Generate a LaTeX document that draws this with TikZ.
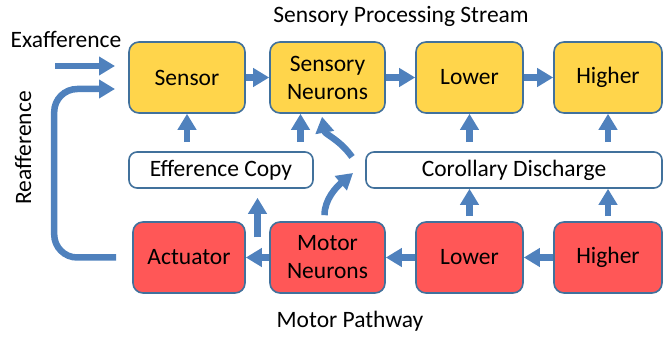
\documentclass[tikz,border=0pt]{standalone}
\usepackage{fontspec}
\setmainfont{Carlito}
\usetikzlibrary{arrows.meta,calc}

\definecolor{senseyellow}{HTML}{FFD54B}
\definecolor{motorred}{HTML}{FF5757}
\definecolor{boxline}{HTML}{41719C}
\definecolor{flowblue}{HTML}{4F81BD}

\tikzset{
  cellbox/.style={draw=boxline, line width=1.6pt, rounded corners=10pt,
    minimum height=71pt, align=center, inner sep=2pt,
    font=\fontsize{23.5}{28}\selectfont},
  sensebox/.style={cellbox, fill=senseyellow},
  motorbox/.style={cellbox, fill=motorred},
  copybox/.style={cellbox, fill=white, rounded corners=8pt, minimum height=36pt},
  caption/.style={font=\fontsize{23.5}{28}\selectfont},
  flow/.style={draw=flowblue, line width=6.5pt,
    -{Triangle[width=18pt,length=16pt]}},
}

\begin{document}
\begin{tikzpicture}[x=1pt,y=1pt]
  \useasboundingbox (0,0) rectangle (668,337);
  % sensory stream (top row)
  \node[sensebox, minimum width=116pt] (sensor) at (187,259.5) {Sensor};
  \node[sensebox, minimum width=115pt] (sn) at (327.5,259.5) {Sensory\\Neurons};
  \node[sensebox, minimum width=107pt] (slower) at (469.5,259.5) {Lower};
  \node[sensebox, minimum width=108pt] (shigher) at (608,259.5) {Higher};
  % copies (middle row)
  \node[copybox, minimum width=184pt] (ecopy) at (221,167) {Efference Copy};
  \node[copybox, minimum width=296pt] (cd) at (514,167) {Corollary Discharge};
  % motor pathway (bottom row)
  \node[motorbox, minimum width=112pt] (actuator) at (189,79.5) {Actuator};
  \node[motorbox, minimum width=115pt] (mn) at (327.5,79.5) {Motor\\Neurons};
  \node[motorbox, minimum width=107pt] (mlower) at (469.5,79.5) {Lower};
  \node[motorbox, minimum width=108pt] (mhigher) at (608,79.5) {Higher};
  % labels
  \node[caption] (streamlbl) at (401,321) {Sensory Processing Stream};
  \node[caption] (motorlbl) at (350,16) {Motor Pathway};
  \node[caption] (exalbl) at (66,298) {Exafference};
  \node[caption, rotate=90] (reaflbl) at (23,189) {Reafference};
  % free ends
  \coordinate (exastart) at (55,271);
  \coordinate (exaend) at (115,271);
  \coordinate (reafend) at (115,248);
  \coordinate (cdin) at (353,164);
  \coordinate (cdout) at (352,180);
  \coordinate (effstart) at ($(actuator.east)!.5!(mn.west)+(0,20)$);
  % sensory arrows
  \draw[flow] (exastart) -- (exaend);
  \draw[flow] (sensor) -- (sn);
  \draw[flow] (sn) -- (slower);
  \draw[flow] (slower) -- (shigher);
  % motor arrows
  \draw[flow] (mhigher) -- (mlower);
  \draw[flow] (mlower) -- (mn);
  \draw[flow] (mn) -- (actuator);
  \draw[flow, rounded corners=23pt] ([xshift=-16pt]actuator.west) -- ++(-62,0) |- (reafend);
  % up arrows
  \draw[flow, shorten <=9pt] (sensor.south |- ecopy.north) -- (sensor.south);
  \draw[flow, shorten <=9pt] ([xshift=-27pt]sn.south |- ecopy.north) -- ([xshift=-27pt]sn.south);
  \draw[flow, shorten <=9pt] (slower.south |- cd.north) -- (slower.south);
  \draw[flow, shorten <=9pt] (shigher.south |- cd.north) -- (shigher.south);
  \draw[flow, shorten <=5pt] (mlower.north) -- (mlower.north |- cd.south);
  \draw[flow, shorten <=5pt] (mhigher.north) -- (mhigher.north |- cd.south);
  \draw[flow, shorten >=9pt] (effstart) -- (effstart |- ecopy.south);
  % curved arrows
  \draw[flow, shorten <=6pt] ([xshift=-3pt]mn.north) to[out=90, in=-140] (cdin);
  \draw[flow, shorten >=3pt] (cdout) to[out=125, in=-80] ([xshift=-6pt]sn.south);
\end{tikzpicture}
\end{document}
